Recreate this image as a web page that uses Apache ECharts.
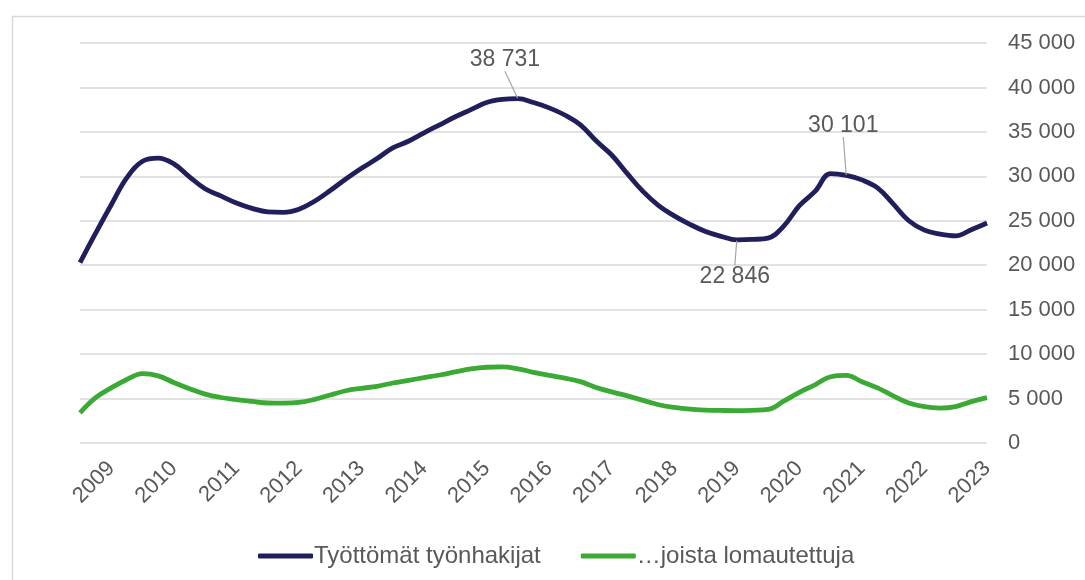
<!DOCTYPE html>
<html>
<head>
<meta charset="utf-8">
<script src="https://cdn.jsdelivr.net/npm/echarts@6/dist/echarts.min.js"></script>
<style>
html,body{margin:0;padding:0;background:#fff;}
#main{width:1085px;height:580px;}
</style>
</head>
<body>
<div id="main"></div>
<script>
var fontti = '"Liberation Sans", Arial, sans-serif';
var tekstiVari = '#595959';

// neljännesvuodet, alku 2008 Q3
var vuodet = ['2009','2010','2011','2012','2013','2014','2015','2016','2017','2018','2019','2020','2021','2022','2023'];
var kvartaalit = [];
(function(){
	var v = 2008, q = 3;
	for (var i = 0; i < 59; i++) {
		kvartaalit.push(v + '-Q' + q);
		q++;
		if (q > 4) { q = 1; v++; }
	}
})();

// Työttömät työnhakijat
var tyottomat = [
	20300, 23600, 26800, 29850, 31700, 32050, 31400, 29950, 28600, 27800,
	27000, 26400, 26000, 25950, 26300, 27200, 28400, 29700, 30900, 32000,
	33200, 33950, 34900, 35800, 36700, 37500, 38300, 38650, 38731, 38300,
	37700, 36900, 35800, 34000, 32400, 30300, 28300, 26700, 25550, 24600,
	23800, 23250, 22846, 22900, 23050, 24400, 26700, 28300, 30300, 30101,
	29600, 28700, 26900, 25000, 23950, 23500, 23300, 24000, 24750
];
// ...joista lomautettuja
var lomautetut = [
	3400, 5100, 6200, 7150, 7800, 7550, 6800, 6100, 5500, 5120,
	4880, 4680, 4500, 4480, 4560, 4900, 5400, 5880, 6150, 6380,
	6750, 7050, 7350, 7650, 8000, 8330, 8520, 8560, 8350, 7950,
	7600, 7300, 6900, 6250, 5750, 5300, 4800, 4300, 4000, 3800,
	3700, 3660, 3640, 3680, 3780, 4700, 5700, 6550, 7450, 7600,
	6900, 6200, 5300, 4500, 4080, 3930, 4100, 4650, 5100
];

// merkityt arvot: indeksi -> siirto
var merkinnat = {
	28: {pos:'top', dx:-13, dy:-27},
	42: {pos:'bottom', dx:-2, dy:25},
	49: {pos:'top', dx:-3, dy:-38}
};

function luku(v){
	return String(v).replace(/\B(?=(\d{3})+(?!\d))/g, ' ');
}

var tyottomatData = [];
for (var i = 0; i < tyottomat.length; i++) {
	var m = merkinnat[i];
	if (m) {
		tyottomatData.push({
			value: tyottomat[i],
			symbol:'circle', symbolSize:1,
			label: {show:true, position:m.pos, distance:0, formatter:luku(tyottomat[i]),
				fontSize:23, color:tekstiVari, fontFamily:fontti},
			labelLine: {show:true, lineStyle:{color:'#a6a6a6', width:1.2}}
		});
	} else {
		tyottomatData.push(tyottomat[i]);
	}
}

var myChart = echarts.init(document.getElementById('main'));
myChart.setOption({
	animation:false,
	backgroundColor:'#fff',
	graphic:[{
		type:'rect', left:10, top:14,
		shape:{width:1200, height:700},
		style:{fill:'none', stroke:'#d9d9d9', lineWidth:1.5},
		silent:true
	}],
	grid:{left:80, right:98, top:43, bottom:137},
	legend:{
		left:253, top:539,
		itemWidth:55, itemHeight:5, itemGap:40,
		icon:'roundRect',
		textStyle:{fontSize:24, color:tekstiVari, fontFamily:fontti, padding:[0,0,0,-4]},
		data:['Työttömät työnhakijat','…joista lomautettuja']
	},
	xAxis:{
		type:'category',
		data:kvartaalit,
		boundaryGap:false,
		axisLine:{show:false},
		axisTick:{show:false},
		axisLabel:{
			rotate:45, margin:22,
			fontSize:22, color:tekstiVari, fontFamily:fontti,
			interval:function(index, value){ return value.slice(-2) === 'Q1'; },
			formatter:function(value){ return value.slice(0,4); }
		}
	},
	yAxis:{
		type:'value', position:'right',
		min:0, max:45000, interval:5000,
		axisLine:{show:false},
		axisTick:{show:false},
		splitLine:{lineStyle:{color:'#d9d9d9', width:1.5}},
		axisLabel:{margin:21, fontSize:22, color:tekstiVari, fontFamily:fontti, formatter:luku}
	},
	series:[
		{
			name:'Työttömät työnhakijat',
			type:'line', smooth:0.4, symbol:'none',
			data:tyottomatData,
			lineStyle:{color:'#201f5b', width:4.8},
			itemStyle:{color:'#201f5b'},
			labelLayout:function(p){
				var m = merkinnat[p.dataIndex];
				return m ? {dx:m.dx, dy:m.dy} : {};
			}
		},
		{
			name:'…joista lomautettuja',
			type:'line', smooth:0.4, symbol:'none',
			data:lomautetut,
			lineStyle:{color:'#3aaa35', width:4.8},
			itemStyle:{color:'#3aaa35'}
		}
	]
});
</script>
</body>
</html>
